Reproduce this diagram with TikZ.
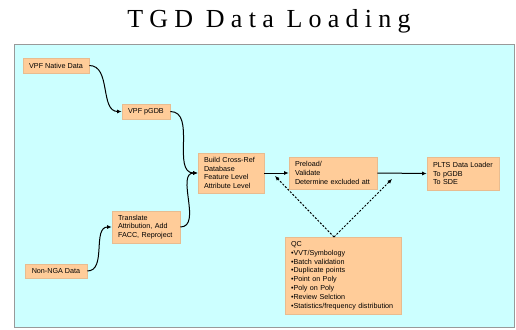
\documentclass[tikz,border=0pt]{standalone}
\usepackage{fontspec}
\setmainfont{Liberation Sans}
\newfontfamily\titlefont[LetterSpace=24]{Liberation Serif}
\usetikzlibrary{arrows.meta}
\definecolor{panelbg}{HTML}{CCFFFF}
\definecolor{panelline}{HTML}{999999}
\definecolor{boxfill}{HTML}{FFCC99}
\definecolor{boxline}{HTML}{E8BC90}
\tikzset{
  stepbox/.style={draw=boxline, fill=boxfill, line width=0.6pt, inner xsep=6pt, inner ysep=0pt,
    align=left, font=\fontsize{7.2}{8.8}\selectfont, anchor=center},
  flow/.style={line width=1pt, -{Latex[length=4.5pt,width=4pt]}},
  qcflow/.style={line width=1pt, dash pattern=on 2pt off 1.6pt, -{Latex[length=4.5pt,width=4pt]}}
}
\begin{document}
\begin{tikzpicture}[x=1pt,y=-1pt]
\useasboundingbox (0,0) rectangle (516,329);
\node[font=\titlefont\fontsize{26}{28}\selectfont, anchor=base, inner sep=0pt] (title) at (269,28) {TGD Data Loading};
\draw[panelline, fill=panelbg, line width=1pt] (14,45) rectangle (514,327);

\node[stepbox, minimum width=66pt, minimum height=15pt, align=center] (native) at (56,65.5) {VPF Native Data};
\node[stepbox, minimum width=48pt, minimum height=15pt, align=center] (pgdb) at (146,111.5) {VPF pGDB};
\node[stepbox, minimum width=66pt, minimum height=40pt, text width=54pt] (build) at (231,173) {\mbox{Build Cross-Ref}\\Database\\Feature Level\\Attribute Level};
\node[stepbox, minimum width=88pt, minimum height=32pt, text width=76pt] (preload) at (333,173) {Preload/\\Validate\\\mbox{Determine excluded att}};
\node[stepbox, minimum width=72pt, minimum height=33pt, text width=60pt] (plts) at (463,173.5) {\mbox{PLTS Data Loader}\\To pGDB\\To SDE};
\node[stepbox, minimum width=68pt, minimum height=32pt, text width=56pt] (translate) at (146,227) {Translate\\\mbox{Attribution, Add}\\\mbox{FACC, Reproject}};
\node[stepbox, minimum width=62pt, minimum height=14pt, align=center] (nonnga) at (56,271) {Non-NGA Data};
\node[stepbox, minimum width=116pt, minimum height=77pt, text width=104pt] (qc) at (343,275.5) {QC\\\textbullet VVT/Symbology\\\textbullet Batch validation\\\textbullet Duplicate points\\\textbullet Point on Poly\\\textbullet Poly on Poly\\\textbullet Review Selction\\\mbox{\textbullet Statistics/frequency distribution}};

\coordinate (qcapex) at (334,237);
\coordinate (qcleft) at (275,176);
\coordinate (qcright) at (392,179);

\draw[flow] (native.east) to[out=0,in=180] (pgdb.west);
\draw[flow] (pgdb.east) to[out=0,in=180] (build.west);
\draw[flow] (nonnga.east) to[out=0,in=180] (translate.west);
\draw[flow] (translate.east) to[out=0,in=180] (build.west);
\draw[flow] (build.east) -- (preload.west);
\draw[flow] (preload.east) -- (plts.west);
\draw[qcflow] (qcapex) -- (qcleft);
\draw[qcflow] (qcapex) -- (qcright);
\end{tikzpicture}
\end{document}
